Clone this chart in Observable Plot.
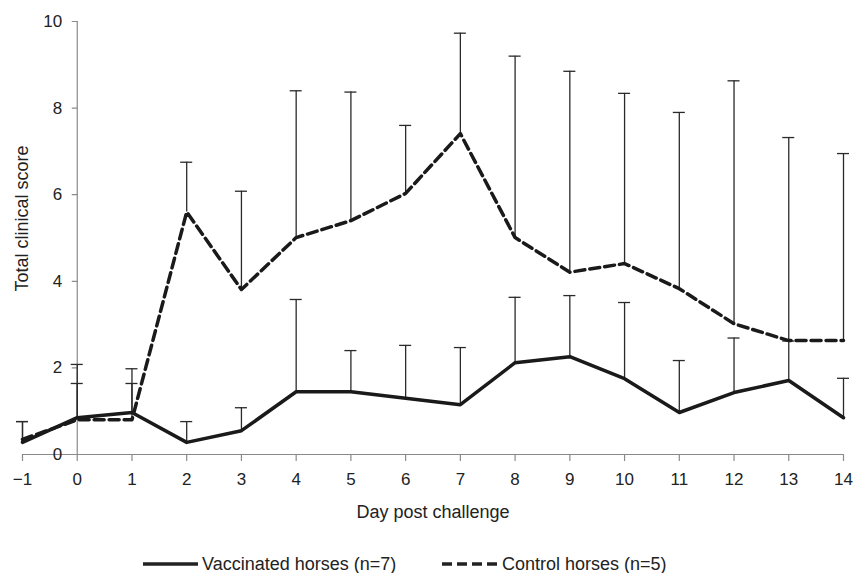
<!DOCTYPE html>
<html>
<head>
<meta charset="utf-8">
<script src="https://cdn.jsdelivr.net/npm/d3@7"></script>
<script src="https://cdn.jsdelivr.net/npm/@observablehq/plot@0.6"></script>
<style>
  html, body { margin: 0; padding: 0; background: #fff; }
  body { width: 855px; font-family: "Liberation Sans", Arial, Helvetica, sans-serif; color: #222; }
  #legend { position: relative; height: 43px; font-size: 18px; line-height: 20px; }
  .item { position: absolute; top: 24px; display: flex; align-items: center; }
  .item svg { margin-right: 4px; }
</style>
</head>
<body>
<div id="chart"></div>
<div id="legend">
  <div class="item" style="left:143px"><svg width="55" height="8"><line x1="0" y1="4" x2="55" y2="4" stroke="#222" stroke-width="3.5"/></svg>Vaccinated horses (n=7)</div>
  <div class="item" style="left:442px"><svg width="56" height="8"><line x1="0" y1="4" x2="56" y2="4" stroke="#222" stroke-width="3.5" stroke-dasharray="10,5"/></svg>Control horses (n=5)</div>
</div>
<script>
const days = [-1, 0, 1, 2, 3, 4, 5, 6, 7, 8, 9, 10, 11, 12, 13, 14];
const vaccinatedMean = [0.28, 0.85, 0.97, 0.28, 0.55, 1.45, 1.45, 1.3, 1.15, 2.12, 2.26, 1.75, 0.97, 1.43, 1.71, 0.85];
const vaccinatedTop  = [0.76, 1.64, 1.64, 0.76, 1.08, 3.58, 2.4, 2.52, 2.47, 3.63, 3.67, 3.51, 2.17, 2.69, 2.62, 1.76];
const controlMean = [0.35, 0.8, 0.8, 5.6, 3.81, 5.01, 5.4, 6.03, 7.41, 5.01, 4.21, 4.41, 3.83, 3.02, 2.63, 2.63];
const controlTop  = [0.76, 2.08, 1.98, 6.75, 6.08, 8.4, 8.37, 7.6, 9.73, 9.2, 8.85, 8.34, 7.9, 8.63, 7.32, 6.95];
const xTicks = [-1, 0, 1, 2, 3, 4, 5, 6, 7, 8, 9, 10, 11, 12, 13, 14];
const yTicks = [0, 2, 4, 6, 8, 10];
const xLabel = "Day post challenge";
const yLabel = "Total clinical score";

const vacc = days.map((d, i) => ({day: d, mean: vaccinatedMean[i], top: vaccinatedTop[i]}));
const ctrl = days.map((d, i) => ({day: d, mean: controlMean[i], top: controlTop[i]}));
const bars = [...vacc, ...ctrl];

const capHalf = 0.11;
const axisColor = "#8a8a8a";
const tickLine = {draw(ctx, l) { ctx.moveTo(0, 0); ctx.lineTo(0, -l); }};
const fsTick = 17;
const fsTitle = 18;

const chart = Plot.plot({
  width: 855,
  height: 530,
  marginTop: 21,
  marginBottom: 76,
  marginLeft: 22,
  marginRight: 12,
  x: {domain: [-1, 14], axis: null},
  y: {domain: [0, 10], axis: null},
  style: {fontFamily: '"Liberation Sans", Arial, Helvetica, sans-serif', fontSize: "17px", color: "#222", background: "#fff"},
  marks: [
    Plot.ruleY([0], {x1: -1, x2: 14, stroke: axisColor, strokeWidth: 1.2}),
    Plot.ruleX([0], {y1: 0, y2: 10, stroke: axisColor, strokeWidth: 1.2}),
    Plot.vector(xTicks, {x: d => d, y: 0, length: 6, rotate: 180, anchor: "start", shape: tickLine, stroke: axisColor, strokeWidth: 1.2}),
    Plot.text(xTicks, {x: d => d, y: 0, text: d => d < 0 ? "\u2212" + Math.abs(d) : String(d), dy: 25, fontSize: fsTick, fill: "#222"}),
    Plot.vector(yTicks, {x: 0, y: d => d, length: 5, rotate: -90, anchor: "start", shape: tickLine, stroke: axisColor, strokeWidth: 1.2}),
    Plot.text(yTicks, {x: 0, y: d => d, text: d => String(d), dx: -15, textAnchor: "end", fontSize: fsTick, fill: "#222"}),
    Plot.text([yLabel], {x: -1, y: 5.45, text: d => d, rotate: -90, fontSize: fsTitle, fill: "#222"}),
    Plot.text([xLabel], {x: 6.5, y: 0, text: d => d, dy: 58, fontSize: fsTitle, fill: "#222"}),
    Plot.ruleX(bars, {x: "day", y1: "mean", y2: "top", stroke: "#2a2a2a", strokeWidth: 1.3}),
    Plot.ruleY(bars, {y: "top", x1: d => d.day - capHalf, x2: d => d.day + capHalf, stroke: "#2a2a2a", strokeWidth: 1.3}),
    Plot.line(ctrl, {x: "day", y: "mean", stroke: "#1a1a1a", strokeWidth: 3.5, strokeDasharray: "10,5"}),
    Plot.line(vacc, {x: "day", y: "mean", stroke: "#1a1a1a", strokeWidth: 3.5})
  ]
});
document.getElementById("chart").appendChild(chart);
</script>
</body>
</html>
